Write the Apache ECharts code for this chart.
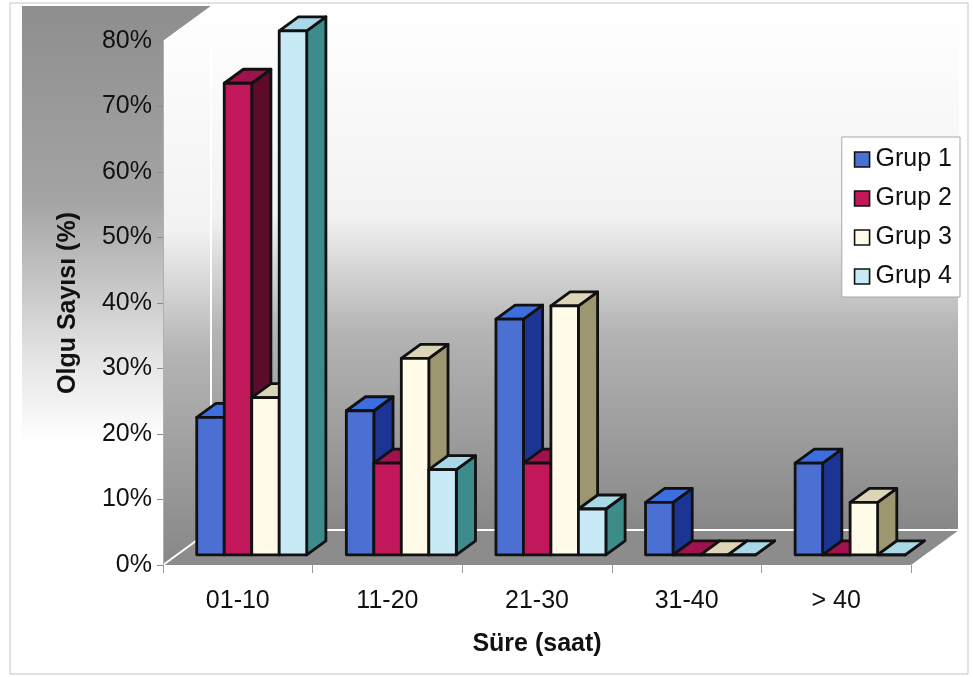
<!DOCTYPE html>
<html>
<head>
<meta charset="utf-8">
<script src="https://cdn.jsdelivr.net/npm/echarts@6/dist/echarts.min.js"></script>
<style>
  html, body { margin: 0; padding: 0; background: #fff; }
  #chart { width: 973px; height: 677px; }
</style>
</head>
<body>
<div id="chart"></div>
<script>
const categories = ['01-10', '11-20', '21-30', '31-40', '> 40']
const seriesNames = ['Grup 1', 'Grup 2', 'Grup 3', 'Grup 4']
const grup1 = [21, 22, 36, 8, 14]
const grup2 = [72, 14, 14, 0, 0]
const grup3 = [24, 30, 38, 0, 8]
const grup4 = [80, 13, 7, 0, 0]
const yTicks = [0, 10, 20, 30, 40, 50, 60, 70, 80]

const values = [grup1, grup2, grup3, grup4]
// front / top / side face colours per group
const faces = [
  { front: '#4b6fd3', top: '#3d6ee0', side: '#1c3594' },
  { front: '#c2185b', top: '#a0124e', side: '#5c0b2a' },
  { front: '#fffbe8', top: '#ddd6b6', side: '#9c9671' },
  { front: '#c8eaf6', top: '#a9d8e6', side: '#3e8b8c' },
]

const DEPTH = [48, -35]   // wall/floor depth offset in px
const FRONT = 0.29        // bar front plane (fraction of depth)
const BACK = 0.69         // bar back plane
const GROUP_FRAC = 0.735  // share of a category taken by the 4 bars
const FONT = '"Liberation Sans", Arial, sans-serif'

function frameItem(params, api) {
  const cs = params.coordSys
  const x0 = cs.x, y0 = cs.y, x1 = cs.x + cs.width, y1 = cs.y + cs.height
  const dx = DEPTH[0], dy = DEPTH[1]
  const grad = (stops) => new echarts.graphic.LinearGradient(0, 0, 0, 1, stops)
  const wallGrad = grad([
    { offset: 0, color: '#ffffff' },
    { offset: 0.4, color: '#f2f2f2' },
    { offset: 0.62, color: '#b4b4b4' },
    { offset: 1, color: '#878787' },
  ])
  return {
    type: 'group',
    children: [
      {
        type: 'polygon',
        shape: { points: [[x0 - 141, y0 + dy], [x0 + dx, y0 + dy], [x0, y0], [x0, y1], [x0 - 141, y1]] },
        style: {
          fill: grad([
            { offset: 0, color: '#8e8e8e' },
            { offset: 0.35, color: '#a4a4a4' },
            { offset: 0.62, color: '#e2e2e2' },
            { offset: 0.78, color: '#ffffff' },
            { offset: 1, color: '#ffffff' },
          ]),
        },
      },
      {
        type: 'polygon',
        shape: { points: [[x0 + dx, y0 + dy], [x1 + dx, y0 + dy], [x1 + dx, y1 + dy], [x0 + dx, y1 + dy]] },
        style: { fill: wallGrad },
      },
      {
        type: 'polygon',
        shape: { points: [[x0, y1], [x0, y0], [x0 + dx, y0 + dy], [x0 + dx, y1 + dy]] },
        style: { fill: wallGrad },
      },
      {
        type: 'polygon',
        shape: { points: [[x0, y1], [x1, y1], [x1 + dx, y1 + dy], [x0 + dx, y1 + dy]] },
        style: { fill: '#8c8c8c' },
      },
      {
        type: 'polyline',
        shape: { points: [[x0, y1], [x0 + dx, y1 + dy], [x1 + dx, y1 + dy], [x1 + dx, y0 + dy + 280]] },
        style: { stroke: '#ffffff', lineWidth: 2, fill: null },
      },
      {
        type: 'line',
        shape: { x1: x0 + dx, y1: y1 + dy, x2: x0 + dx, y2: y0 + dy + 40 },
        style: { stroke: '#ffffff', lineWidth: 2 },
      },
    ],
  }
}

function barItem(idx) {
  return function (params, api) {
    const cat = api.value(0)
    const val = api.value(1)
    const base = api.coord([cat, 0])
    const top = api.coord([cat, val])
    const band = api.size([1, 0])[0]
    const bw = (band * GROUP_FRAC) / 4
    const x = base[0] - (band * GROUP_FRAC) / 2 + idx * bw + DEPTH[0] * FRONT
    const yb = base[1] + DEPTH[1] * FRONT
    const yt = top[1] + DEPTH[1] * FRONT
    const dx = DEPTH[0] * (BACK - FRONT)
    const dy = DEPTH[1] * (BACK - FRONT)
    const c = faces[idx]
    const line = { stroke: '#111', lineWidth: 2.8, lineJoin: 'round' }
    return {
      type: 'group',
      children: [
        {
          type: 'polygon',
          shape: { points: [[x + bw, yt], [x + bw + dx, yt + dy], [x + bw + dx, yb + dy], [x + bw, yb]] },
          style: Object.assign({ fill: c.side }, line),
        },
        {
          type: 'polygon',
          shape: { points: [[x, yt], [x + dx, yt + dy], [x + bw + dx, yt + dy], [x + bw, yt]] },
          style: Object.assign({ fill: c.top }, line),
        },
        {
          type: 'polygon',
          shape: { points: [[x, yt], [x + bw, yt], [x + bw, yb], [x, yb]] },
          style: Object.assign({ fill: c.front }, line),
        },
      ],
    }
  }
}

const chart = echarts.init(document.getElementById('chart'))
chart.setOption({
  animation: false,
  backgroundColor: '#ffffff',
  textStyle: { fontFamily: FONT },
  graphic: [
    {
      type: 'rect',
      shape: { x: 10, y: 3, width: 958, height: 671 },
      style: { fill: null, stroke: '#c4c4c4', lineWidth: 1 },
      z: -10,
    },
  ],
  grid: { left: 163, right: 62, top: 41, bottom: 112 },
  legend: {
    orient: 'vertical',
    right: 13,
    top: 137,
    icon: 'rect',
    itemWidth: 15,
    itemHeight: 15,
    itemGap: 14,
    padding: [10, 8, 8, 12],
    backgroundColor: '#ffffff',
    borderColor: '#a8a8a8',
    borderWidth: 1,
    textStyle: { fontSize: 25, color: '#111', fontFamily: FONT, padding: [0, 0, 0, 1] },
    data: seriesNames.map((name, i) => ({
      name,
      itemStyle: { color: faces[i].front, borderColor: '#111', borderWidth: 1.6 },
    })),
  },
  xAxis: {
    type: 'category',
    data: categories,
    name: 'Süre (saat)',
    nameLocation: 'middle',
    nameGap: 67,
    nameTextStyle: { fontSize: 25, fontWeight: 'bold', color: '#111', fontFamily: FONT },
    axisLine: { show: false },
    axisTick: { show: true, length: 8, lineStyle: { color: '#9a9a9a' } },
    axisLabel: { fontSize: 25, color: '#111', margin: 24, fontFamily: FONT },
  },
  yAxis: {
    type: 'value',
    min: yTicks[0],
    max: yTicks[yTicks.length - 1],
    interval: 10,
    name: 'Olgu Sayısı (%)',
    nameLocation: 'middle',
    nameGap: 82,
    nameTextStyle: { fontSize: 25, fontWeight: 'bold', color: '#111', fontFamily: FONT },
    axisLine: { show: true, lineStyle: { color: '#b0b0b0', width: 1 } },
    axisTick: { show: true, length: 6, lineStyle: { color: '#8a8a8a' } },
    splitLine: { show: false },
    axisLabel: { fontSize: 25, color: '#111', margin: 11, formatter: '{value}%', fontFamily: FONT },
  },
  series: [
    {
      type: 'custom',
      name: 'frame',
      silent: true,
      z: 0,
      renderItem: frameItem,
      data: [[0, 0]],
    },
  ].concat(
    seriesNames.map((name, i) => ({
      type: 'custom',
      name,
      z: 2 + i,
      itemStyle: { color: faces[i].front },
      renderItem: barItem(i),
      data: categories.map((c, j) => [j, values[i][j]]),
    }))
  ),
})
</script>
</body>
</html>
